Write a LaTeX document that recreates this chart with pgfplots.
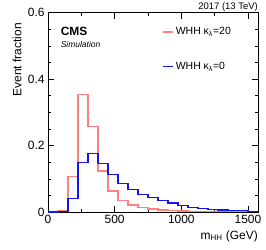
\documentclass[border=0pt]{standalone}
\usepackage{pgfplots}
\pgfplotsset{compat=1.18}
\usepackage{fontspec}
\setmainfont{Liberation Sans}
\definecolor{hred}{RGB}{255,128,128}
\definecolor{hblue}{RGB}{20,20,245}
\begin{document}
\begin{tikzpicture}
\path[use as bounding box] (-48bp,-38bp) rectangle (218bp,212bp);
\begin{axis}[
  scale only axis,
  width=210bp, height=199.5bp,
  at={(0,0)}, anchor=south west,
  xmin=0, xmax=1575, ymin=0, ymax=0.6,
  xtick={0,500,1000,1500},
  minor xtick={250,750,1250},
  ytick={0,0.2,0.4,0.6},
  yticklabels={0,0.2,0.4,0.6},
  minor ytick={0.05,0.1,0.15,0.25,0.3,0.35,0.45,0.5,0.55},
  tick align=inside,
  major tick length=6bp, minor tick length=3bp,
  tick style={black, line width=0.5pt},
  axis line style={black, line width=0.6pt},
  tick label style={font=\fontsize{12}{13}\selectfont},
  /pgf/number format/assume math mode=true,
  /pgf/number format/1000 sep={},
  scaled y ticks=false,
  legend style={at={(rel axis cs:0.545,0.935)}, anchor=north west, draw=none, fill=none,
    font=\fontsize{10.5}{11}\selectfont, row sep=22bp, inner sep=0pt},
  legend cell align=left,
  legend image code/.code={\draw[#1, line width=1.2pt] (0bp,0bp) -- (10bp,0bp);},
  clip=false,
]
\addplot[const plot, hred, line width=1.3pt] coordinates {
(0,0) (75,0.004) (150,0.106) (225,0.353) (300,0.257) (375,0.123) (450,0.063)
(525,0.034) (600,0.021) (675,0.014) (750,0.009) (825,0.006) (900,0.004)
(975,0.003) (1050,0.002) (1125,0.0015) (1200,0.001) (1275,0.001) (1350,0.0008)
(1425,0.0006) (1500,0.0005) (1575,0.0005)};
\addlegendentry{WHH κ\textsubscript{λ}=20}
\addplot[const plot, hblue, line width=1.3pt] coordinates {
(0,0) (75,0.002) (150,0.041) (225,0.149) (300,0.177) (375,0.146) (450,0.113)
(525,0.086) (600,0.068) (675,0.052) (750,0.044) (825,0.035) (900,0.027)
(975,0.020) (1050,0.014) (1125,0.011) (1200,0.008) (1275,0.006) (1350,0.005)
(1425,0.004) (1500,0.001) (1575,0.001)};
\addlegendentry{WHH κ\textsubscript{λ}=0}
\node[anchor=north west, font=\fontsize{12}{13}\selectfont\bfseries, inner sep=0pt] at (rel axis cs:0.06,0.93) {CMS};
\node[anchor=north west, font=\fontsize{8.5}{9}\selectfont\itshape, inner sep=0pt] at (rel axis cs:0.06,0.855) {Simulation};
\node[anchor=base east, font=\fontsize{9.5}{10}\selectfont, inner sep=0pt] at ([yshift=3bp]rel axis cs:1,1) {2017 (13 TeV)};
\node[rotate=90, anchor=east, font=\fontsize{12}{13}\selectfont, inner sep=0pt] at ([xshift=-31bp, yshift=-10.5bp]rel axis cs:0,1) {Event fraction};
\node[anchor=base east, font=\fontsize{12}{13}\selectfont, inner sep=0pt] at ([yshift=-27bp]rel axis cs:1,0) {m$_{\mathrm{HH}}$ (GeV)};
\end{axis}
\end{tikzpicture}
\end{document}
